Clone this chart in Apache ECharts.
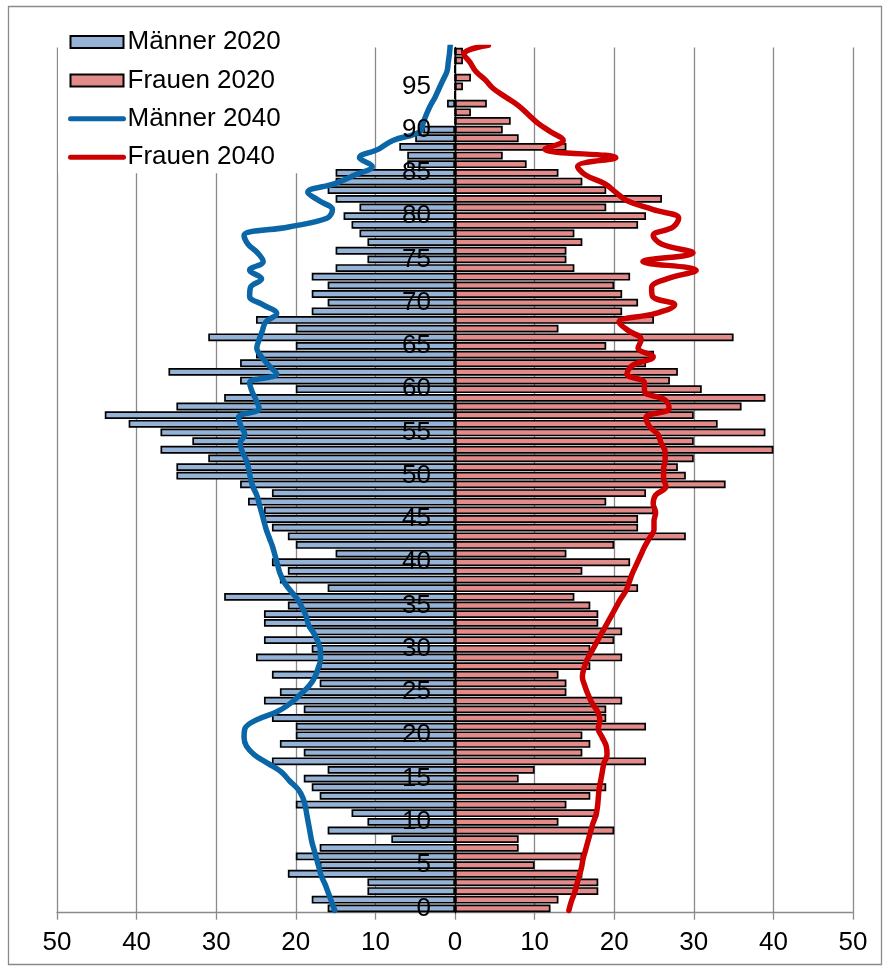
<!DOCTYPE html>
<html><head><meta charset="utf-8">
<script src="https://cdn.jsdelivr.net/npm/echarts@6/dist/echarts.min.js"></script>
<style>html,body{margin:0;padding:0;background:#fff}#c{width:888px;height:969px}</style>
</head><body><div id="c"></div>
<script>
// Age categories for the 2020 bars (0..99)
const ages = [0,1,2,3,4,5,6,7,8,9,10,11,12,13,14,15,16,17,18,19,20,21,22,23,24,25,26,27,28,29,30,31,32,33,34,35,36,37,38,39,40,41,42,43,44,45,46,47,48,49,50,51,52,53,54,55,56,57,58,59,60,61,62,63,64,65,66,67,68,69,70,71,72,73,74,75,76,77,78,79,80,81,82,83,84,85,86,87,88,89,90,91,92,93,94,95,96,97,98,99].map(String);
// Männer 2020 (count, shown to the left)
const men2020 = [16,18,11,11,21,17,20,17,8,16,11,13,20,17,18,19,16,23,19,22,20,20,23,19,24,22,17,23,17,25,18,24,18,24,24,21,29,16,22,21,23,15,20,21,23,24,24,26,23,27,35,35,31,37,33,37,41,44,35,29,20,27,36,27,25,20,31,20,25,18,16,18,16,18,15,11,15,11,12,13,14,12,15,16,15,15,6,6,7,5,4,0,0,1,0,0,0,0,0,0];
// Frauen 2020
const women2020 = [12,13,18,18,16,10,16,8,8,20,13,18,14,17,19,8,10,24,16,17,16,24,19,19,21,14,14,13,17,21,17,20,21,18,18,17,15,23,22,16,22,14,20,29,23,23,25,19,24,34,29,28,30,40,30,39,33,30,36,39,31,27,28,24,25,19,35,13,25,21,23,21,20,22,15,14,14,16,15,23,24,19,26,19,16,13,9,6,14,8,6,7,2,4,0,1,2,0,1,1];
// Ages for the 2040 lines (0..100)
const lineAges = [0,1,2,3,4,5,6,7,8,9,10,11,12,13,14,15,16,17,18,19,20,21,22,23,24,25,26,27,28,29,30,31,32,33,34,35,36,37,38,39,40,41,42,43,44,45,46,47,48,49,50,51,52,53,54,55,56,57,58,59,60,61,62,63,64,65,66,67,68,69,70,71,72,73,74,75,76,77,78,79,80,81,82,83,84,85,86,87,88,89,90,91,92,93,94,95,96,97,98,99,100];
// Männer 2040
const men2040 = [15.1,15.5,15.9,16.3,16.8,17.1,17.4,17.7,18.0,18.2,18.4,18.6,18.8,19.1,19.7,20.8,21.8,23.5,25.2,26.2,26.5,26.4,25.0,22.3,20.6,19.4,18.3,17.6,17.2,16.9,16.9,17.2,17.7,18.4,18.7,19.2,19.8,20.7,21.5,22.0,22.3,22.6,22.9,23.3,23.7,24.0,24.3,24.6,24.9,25.4,25.7,25.9,26.2,26.7,27.0,26.4,26.9,27.2,24.6,25.0,25.5,25.8,22.4,23.4,24.3,24.9,24.6,24.2,23.8,22.4,24.1,25.8,25.7,24.3,25.8,24.1,24.8,26.0,26.5,20.9,16.1,15.4,17.0,18.5,15.1,12.6,10.4,12.0,9.6,7.8,4.4,4.0,3.6,3.1,2.5,2.0,1.5,1.0,0.85,0.7,0.6];
// Frauen 2040
const women2040 = [14.3,14.6,15.0,15.3,15.6,15.9,16.1,16.4,16.7,17.0,17.3,17.7,17.9,18.0,18.1,18.3,18.5,18.7,19.1,19.0,18.5,18.0,18.2,17.9,17.2,16.7,16.3,16.0,16.2,16.6,17.2,17.8,18.4,19.0,19.6,20.2,20.8,21.5,21.9,22.3,22.8,23.3,23.8,24.4,25.0,25.0,25.2,24.9,25.2,26.5,26.2,26.2,26.4,26.4,25.9,25.5,24.4,24.0,26.9,26.4,23.8,23.8,21.6,22.3,24.9,23.0,23.4,21.8,20.6,25.2,27.6,24.8,24.7,26.6,30.3,23.6,29.9,26.0,24.9,27.4,28.1,24.9,21.7,20.2,18.8,16.4,15.4,20.2,11.3,13.6,12.0,10.4,9.2,8.0,6.4,4.8,3.8,2.6,1.9,1.1,4.2];

const FONT = '"Liberation Sans", Arial, sans-serif';
const chart = echarts.init(document.getElementById('c'), null, {renderer: 'canvas'});
chart.setOption({
  animation: false,
  backgroundColor: '#fff',
  textStyle: {fontFamily: FONT},
  grid: {left: 57, right: 35, top: 47.4, bottom: 56.3},
  legend: {
    orient: 'vertical', left: 58, top: 8,
    padding: [21, 22, 3, 10],
    backgroundColor: '#fff',
    itemWidth: 53, itemHeight: 12, itemGap: 12.4,
    textStyle: {fontSize: 26, color: '#000', fontFamily: FONT, lineHeight: 26, padding: [0,0,0,-1]},
    data: [
      {name: 'Männer 2020', icon: 'rect'},
      {name: 'Frauen 2020', icon: 'rect'},
      {name: 'Männer 2040', itemStyle: {opacity: 0}, lineStyle: {width: 5, cap: 'round', color: '#0b66a7'}},
      {name: 'Frauen 2040', itemStyle: {opacity: 0}, lineStyle: {width: 5, cap: 'round', color: '#cc0000'}}
    ]
  },
  xAxis: {
    type: 'value', min: -50, max: 50, interval: 10,
    axisLine: {show: true, onZero: false, lineStyle: {color: '#8a8a8a', width: 1.3}},
    axisTick: {show: true, length: 7, lineStyle: {color: '#8a8a8a', width: 1.3}},
    axisLabel: {fontSize: 26, color: '#000', margin: 17, fontFamily: FONT, formatter: v => String(Math.abs(v))},
    splitLine: {show: true, lineStyle: {color: '#8a8a8a', width: 1.3}}
  },
  yAxis: [
    {
      type: 'category', data: ages, z: 5, position: 'left', offset: -398,
      axisLine: {show: true, onZero: false, lineStyle: {color: '#000', width: 1.4}},
      axisTick: {show: false},
      axisLabel: {interval: 4, fontSize: 26, color: '#000', margin: 24, fontFamily: FONT},
      splitLine: {show: false}
    },
    {type: 'value', min: -0.25, max: 99.75, show: false}
  ],
  series: [
    {
      name: 'Männer 2020', type: 'bar', barGap: '-100%', barCategoryGap: '10%',
      data: men2020.map(v => -v),
      itemStyle: {color: '#95b3d7', borderColor: '#000', borderWidth: 1.7}
    },
    {
      name: 'Frauen 2020', type: 'bar', barGap: '-100%', barCategoryGap: '10%',
      data: women2020,
      itemStyle: {color: '#e38a8a', borderColor: '#000', borderWidth: 1.7}
    },
    {
      name: 'Männer 2040', type: 'line', yAxisIndex: 1, smooth: 0.4, symbol: 'none', z: 4,
      data: men2040.map((v, i) => [-v, lineAges[i]]),
      lineStyle: {color: '#0b66a7', width: 5.5, cap: 'round'},
      itemStyle: {color: '#0b66a7'}
    },
    {
      name: 'Frauen 2040', type: 'line', yAxisIndex: 1, smooth: 0.4, symbol: 'none', z: 4,
      data: women2040.map((v, i) => [v, lineAges[i]]),
      lineStyle: {color: '#cc0000', width: 5.5, cap: 'round'},
      itemStyle: {color: '#cc0000'}
    }
  ],
  graphic: [{
    type: 'rect', z: 100, silent: true,
    shape: {x: 8.5, y: 6.5, width: 873, height: 958},
    style: {fill: 'none', stroke: '#8a8a8a', lineWidth: 1.3}
  }]
});
</script></body></html>
